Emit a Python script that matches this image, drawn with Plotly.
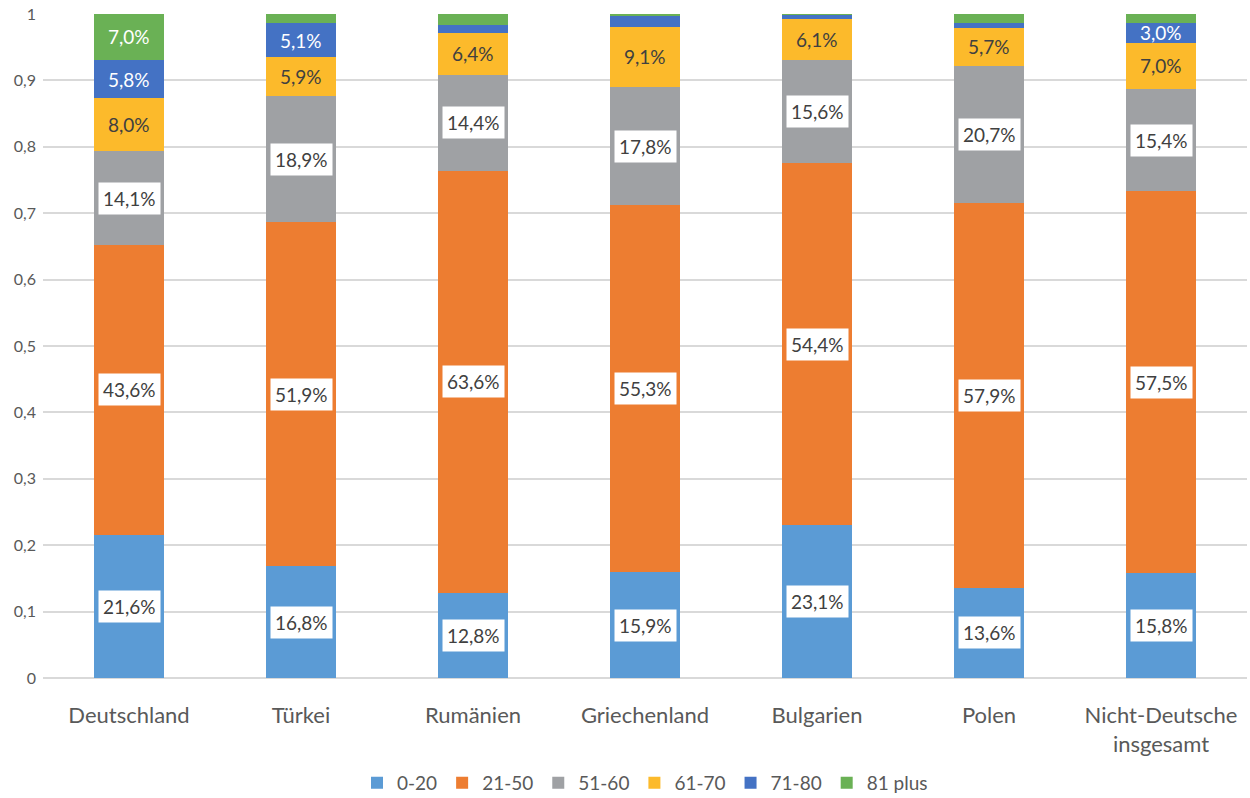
import plotly.graph_objects as go

categories = ["Deutschland", "Türkei", "Rumänien", "Griechenland", "Bulgarien", "Polen", "Nicht-Deutsche<br>insgesamt"]
series_names = ["0-20", "21-50", "51-60", "61-70", "71-80", "81 plus"]

# percentages (share of 1)
v_0_20 = [21.6, 16.8, 12.8, 15.9, 23.1, 13.6, 15.8]
v_21_50 = [43.6, 51.9, 63.6, 55.3, 54.4, 57.9, 57.5]
v_51_60 = [14.1, 18.9, 14.4, 17.8, 15.6, 20.7, 15.4]
v_61_70 = [8.0, 5.9, 6.4, 9.1, 6.1, 5.7, 7.0]
v_71_80 = [5.8, 5.1, 1.2, 1.6, 0.7, 0.8, 3.0]
v_81 = [7.0, 1.4, 1.6, 0.3, 0.1, 1.3, 1.3]

# which segments carry a visible label
show_0_20 = [True] * 7
show_21_50 = [True] * 7
show_51_60 = [True] * 7
show_61_70 = [True] * 7
show_71_80 = [True, True, False, False, False, False, True]
show_81 = [True, False, False, False, False, False, False]

series = [v_0_20, v_21_50, v_51_60, v_61_70, v_71_80, v_81]
shows = [show_0_20, show_21_50, show_51_60, show_61_70, show_71_80, show_81]
colors = ["#5B9BD5", "#ED7D31", "#9FA1A4", "#FCBA2B", "#4472C4", "#6AB155"]
label_style = ["box", "box", "box", "dark", "light", "light"]

FONT = "Lato, 'Open Sans', sans-serif"
LBL = 19
fig = go.Figure()
for name, vals, col in zip(series_names, series, colors):
    fig.add_trace(go.Bar(
        x=categories, y=[v / 100 for v in vals], name=name,
        marker=dict(color=col, line=dict(width=0)),
        width=0.41,
    ))

annotations = []
base = [0.0] * len(categories)
for vals, show, style in zip(series, shows, label_style):
    for i, v in enumerate(vals):
        mid = base[i] + v / 200
        if show[i]:
            txt = f"{v:.1f}%".replace(".", ",")
            if style == "box":
                annotations.append(dict(x=categories[i], y=mid, text=txt, showarrow=False,
                                        font=dict(size=LBL, color="#404040", family=FONT),
                                        bgcolor="white", borderpad=4))
            elif style == "dark":
                annotations.append(dict(x=categories[i], y=mid, text=txt, showarrow=False,
                                        font=dict(size=LBL, color="#404040", family=FONT)))
            else:
                annotations.append(dict(x=categories[i], y=mid, text=txt, showarrow=False,
                                        font=dict(size=LBL, color="white", family=FONT)))
        base[i] += v / 100

fig.update_layout(
    barmode="stack",
    width=1250, height=798,
    margin=dict(l=43, r=3, t=14, b=120),
    paper_bgcolor="white", plot_bgcolor="white",
    separators=", ",
    font=dict(family=FONT, color="#595959"),
    annotations=annotations,
    bargap=0.59,
    legend=dict(orientation="h", x=0.5, xanchor="center",
                yref="container", y=0.019, yanchor="middle",
                font=dict(size=19, color="#595959"), traceorder="normal",
                itemwidth=30),
    showlegend=True,
)
fig.update_yaxes(range=[0, 1], dtick=0.1, tick0=0, showgrid=True, gridcolor="#D9D9D9",
                 gridwidth=1.5, zeroline=True, zerolinecolor="#D9D9D9", zerolinewidth=1.5,
                 tickfont=dict(size=16, color="#595959"), ticks="", ticklen=0,
                 automargin=False, ticklabelstandoff=6, ticklabeloverflow="allow")
fig.update_xaxes(tickfont=dict(size=22, color="#595959"), showline=False, ticks="",
                 automargin=False, ticklabelstandoff=22, range=[-0.5, 6.5],
                 ticklabeloverflow="allow")

# remove the default 8px page margin so the figure fills the window exactly
fig.write_html("out.html", config={"displayModeBar": False},
               post_script="document.body.style.margin='0';")
